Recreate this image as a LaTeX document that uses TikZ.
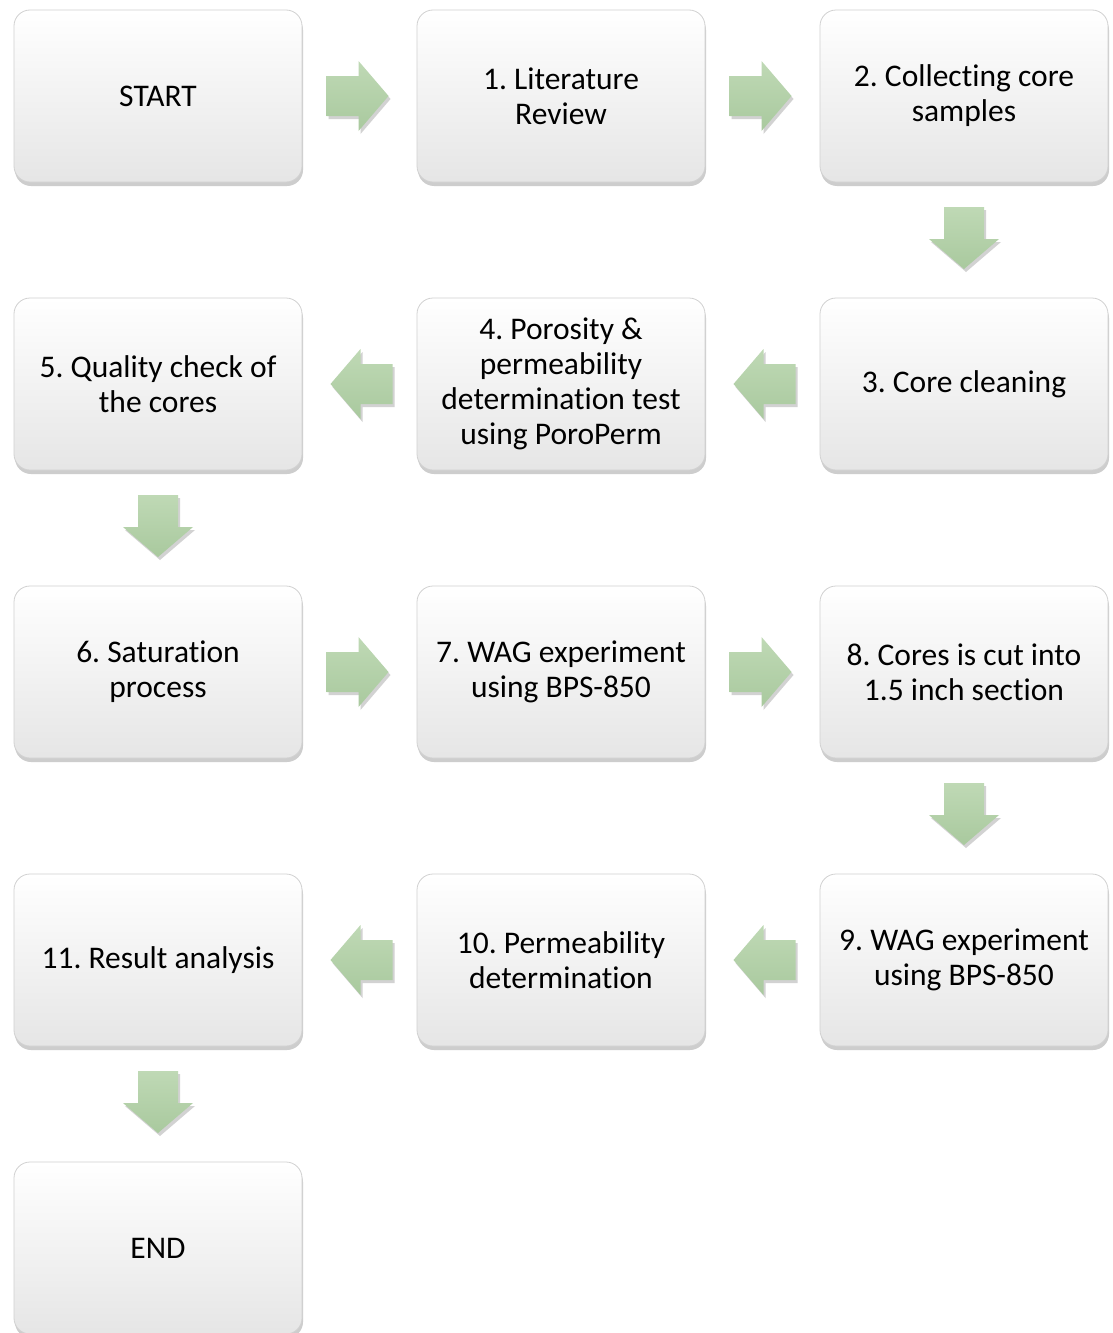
\documentclass[tikz,border=0pt]{standalone}
\usepackage{fontspec}
\setmainfont{Carlito}[Ligatures=NoCommon]
\frenchspacing
\usetikzlibrary{shadows,calc}
\definecolor{arrtop}{HTML}{BFD9B5}
\definecolor{arrbot}{HTML}{A9C99E}
\tikzset{
  stepbox/.style={rectangle, rounded corners=16pt, minimum width=288pt, minimum height=172pt,
    draw=black!18, line width=0.8pt, top color=white, middle color=white, bottom color=black!10,
    drop shadow={shadow xshift=1pt, shadow yshift=-4pt, opacity=0.28, fill=black!70},
    font=\fontsize{31.5}{35}\selectfont, align=center, text=black, inner sep=4pt},
  arrowfill/.style={top color=arrtop, bottom color=arrbot, draw=none,
    drop shadow={shadow xshift=2pt, shadow yshift=-3pt, opacity=0.25, fill=black!70}},
  rarrow/.pic={\path[arrowfill] (-33,-20) -- (-1,-20) -- (-1,-35) -- (29,0) -- (-1,35) -- (-1,20) -- (-33,20) -- cycle;},
  larrow/.pic={\path[arrowfill] (33,-20) -- (1,-20) -- (1,-35) -- (-29,0) -- (1,35) -- (1,20) -- (33,20) -- cycle;},
  darrow/.pic={\path[arrowfill] (-20,-33) -- (20,-33) -- (20,-1) -- (35,-1) -- (0,29) -- (-35,-1) -- (-20,-1) -- cycle;}
}
\begin{document}
\begin{tikzpicture}[x=1pt,y=-1pt]
\useasboundingbox[fill=white] (0,0) rectangle (1112,1333);
\node[stepbox] (s)   at (158,96)  {START};
\node[stepbox] (n1)  at (561,96)  {1. Literature\\Review};
\node[stepbox] (n2)  at (964,96)  {2. Collecting core\\samples};
\node[stepbox] (n3)  at (964,384) {3. Core cleaning};
\node[stepbox] (n4)  at (561,384) {4. Porosity \&\\permeability\\determination test\\using PoroPerm};
\node[stepbox] (n5)  at (158,384) {5. Quality check of\\the cores};
\node[stepbox] (n6)  at (158,672) {6. Saturation\\process};
\node[stepbox] (n7)  at (561,672) {7. WAG experiment\\using BPS-850};
\node[stepbox] (n8)  at (964,672) {8. Cores is cut into\\1.5 inch section};
\node[stepbox] (n9)  at (964,960) {9. WAG experiment\\using BPS-850};
\node[stepbox] (n10) at (561,960) {10. Permeability\\determination};
\node[stepbox] (n11) at (158,960) {11. Result analysis};
\node[stepbox] (e)   at (158,1248) {END};
\pic at ($(s.east)!0.5!(n1.west)$) {rarrow};
\pic at ($(n1.east)!0.5!(n2.west)$) {rarrow};
\pic at ($(n2.south)!0.5!(n3.north)$) {darrow};
\pic at ($(n3.west)!0.5!(n4.east)$) {larrow};
\pic at ($(n4.west)!0.5!(n5.east)$) {larrow};
\pic at ($(n5.south)!0.5!(n6.north)$) {darrow};
\pic at ($(n6.east)!0.5!(n7.west)$) {rarrow};
\pic at ($(n7.east)!0.5!(n8.west)$) {rarrow};
\pic at ($(n8.south)!0.5!(n9.north)$) {darrow};
\pic at ($(n9.west)!0.5!(n10.east)$) {larrow};
\pic at ($(n10.west)!0.5!(n11.east)$) {larrow};
\pic at ($(n11.south)!0.5!(e.north)$) {darrow};
\end{tikzpicture}
\end{document}
